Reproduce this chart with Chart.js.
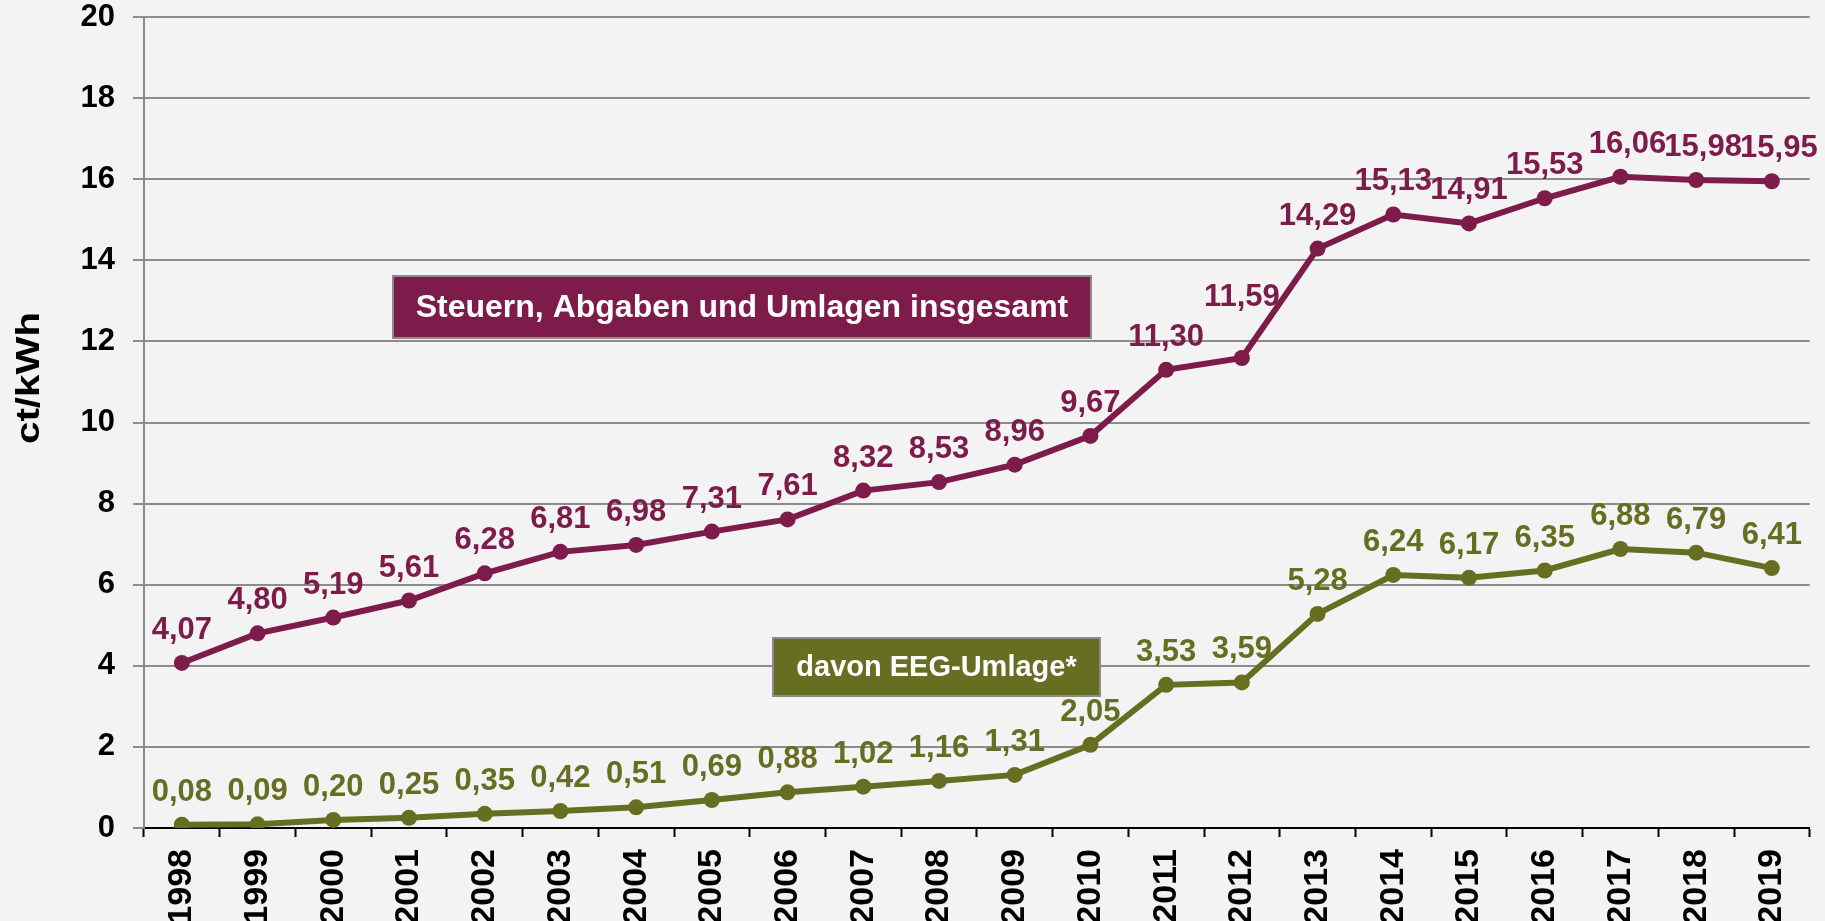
<!DOCTYPE html>
<html>
<head>
<meta charset="utf-8">
<script src="https://cdn.jsdelivr.net/npm/chart.js@4.4.1/dist/chart.umd.min.js"></script>
<style>
  html, body { margin: 0; padding: 0; background: #f3f3f3; }
  #wrap { width: 1825px; height: 921px; position: relative; }
</style>
</head>
<body>
<div id="wrap"><canvas id="chart"></canvas></div>
<script>
// Data
var years = ['1998', '1999', '2000', '2001', '2002', '2003', '2004', '2005', '2006', '2007', '2008',
             '2009', '2010', '2011', '2012', '2013', '2014', '2015', '2016', '2017', '2018', '2019'];
var totalValues = [4.07, 4.80, 5.19, 5.61, 6.28, 6.81, 6.98, 7.31, 7.61, 8.32, 8.53,
                   8.96, 9.67, 11.30, 11.59, 14.29, 15.13, 14.91, 15.53, 16.06, 15.98, 15.95];
var eegValues = [0.08, 0.09, 0.20, 0.25, 0.35, 0.42, 0.51, 0.69, 0.88, 1.02, 1.16,
                 1.31, 2.05, 3.53, 3.59, 5.28, 6.24, 6.17, 6.35, 6.88, 6.79, 6.41];
var yTicks = [0, 2, 4, 6, 8, 10, 12, 14, 16, 18, 20];
var totalLabel = 'Steuern, Abgaben und Umlagen insgesamt';
var eegLabel = 'davon EEG-Umlage*';
var yTitle = 'ct/kWh';

var purple = '#7d1c4a';
var olive = '#666e22';
var gridGray = '#8c8c8c';
var fontFamily = '"Liberation Sans", Arial, sans-serif';

function fmt(v) {
  return v.toFixed(2).replace('.', ',');
}

// value labels above each point
var valueLabels = {
  id: 'valueLabels',
  afterDatasetsDraw: function(chart) {
    var ctx = chart.ctx;
    ctx.save();
    ctx.font = 'bold 31px ' + fontFamily;
    ctx.textAlign = 'center';
    ctx.textBaseline = 'alphabetic';
    chart.data.datasets.forEach(function(ds, di) {
      var meta = chart.getDatasetMeta(di);
      ctx.fillStyle = ds.borderColor;
      meta.data.forEach(function(pt, i) {
        var lift = 24;
        var shift = 0;
        // the 2012 total label sits higher in the original
        if (di === 0 && i === 14) lift = 52;
        // last three total labels are crowded and pushed right a bit
        if (di === 0 && i >= 19) shift = 7;
        ctx.fillText(fmt(ds.data[i]), pt.x + shift, pt.y - lift);
      });
    });
    ctx.restore();
  }
};

// boxed series names and the y axis title
function drawBox(ctx, text, x, y, w, h, fill, fontSize) {
  ctx.fillStyle = fill;
  ctx.fillRect(x, y, w, h);
  ctx.strokeStyle = gridGray;
  ctx.lineWidth = 2;
  ctx.strokeRect(x, y, w, h);
  ctx.font = 'bold ' + fontSize + 'px ' + fontFamily;
  ctx.fillStyle = '#ffffff';
  ctx.textAlign = 'center';
  ctx.textBaseline = 'middle';
  ctx.fillText(text, x + w / 2, y + h / 2 + 1);
}

var annotations = {
  id: 'annotations',
  afterDraw: function(chart) {
    var ctx = chart.ctx;
    ctx.save();
    drawBox(ctx, totalLabel, 393, 276, 698, 62, purple, 32);
    drawBox(ctx, eegLabel, 773, 638, 327, 58, olive, 29);

    ctx.translate(30, 378);
    ctx.rotate(-Math.PI / 2);
    ctx.font = 'bold 33px ' + fontFamily;
    var sx = 132 / ctx.measureText(yTitle).width;
    ctx.scale(sx, 1);
    ctx.fillStyle = '#000000';
    ctx.textAlign = 'center';
    ctx.textBaseline = 'middle';
    ctx.fillText(yTitle, 0, 0);
    ctx.restore();
  }
};

new Chart(document.getElementById('chart'), {
  type: 'line',
  data: {
    labels: years,
    datasets: [
      {
        label: totalLabel,
        data: totalValues,
        borderColor: purple,
        backgroundColor: purple,
        borderWidth: 6,
        pointRadius: 8,
        pointBorderWidth: 0,
        tension: 0
      },
      {
        label: eegLabel,
        data: eegValues,
        borderColor: olive,
        backgroundColor: olive,
        borderWidth: 6,
        pointRadius: 8,
        pointBorderWidth: 0,
        tension: 0
      }
    ]
  },
  options: {
    responsive: true,
    maintainAspectRatio: false,
    animation: false,
    layout: { padding: { top: 0, right: 15, bottom: 0, left: 0 } },
    plugins: {
      legend: { display: false },
      tooltip: { enabled: false }
    },
    scales: {
      x: {
        offset: true,
        grid: {
          offset: true,
          drawOnChartArea: false,
          drawTicks: true,
          tickLength: 9,
          tickWidth: 2,
          tickColor: '#000000'
        },
        border: { color: '#000000', width: 2 },
        ticks: {
          color: '#000000',
          font: { family: fontFamily, size: 34, weight: 'bold' },
          minRotation: 90,
          maxRotation: 90,
          padding: 12,
          autoSkip: false
        },
        afterFit: function(scale) { scale.height = 93; }
      },
      y: {
        min: 0,
        max: 20,
        afterBuildTicks: function(scale) {
          scale.ticks = yTicks.map(function(v) { return { value: v }; });
        },
        grid: {
          color: gridGray,
          lineWidth: 2,
          drawTicks: true,
          tickLength: 11
        },
        border: { color: gridGray, width: 2 },
        ticks: {
          color: '#000000',
          font: { family: fontFamily, size: 31, weight: 'bold' },
          padding: 18
        },
        afterFit: function(scale) {
          scale.width = 144;
          scale.paddingTop = 17;
        }
      }
    }
  },
  plugins: [valueLabels, annotations]
});
</script>
</body>
</html>
